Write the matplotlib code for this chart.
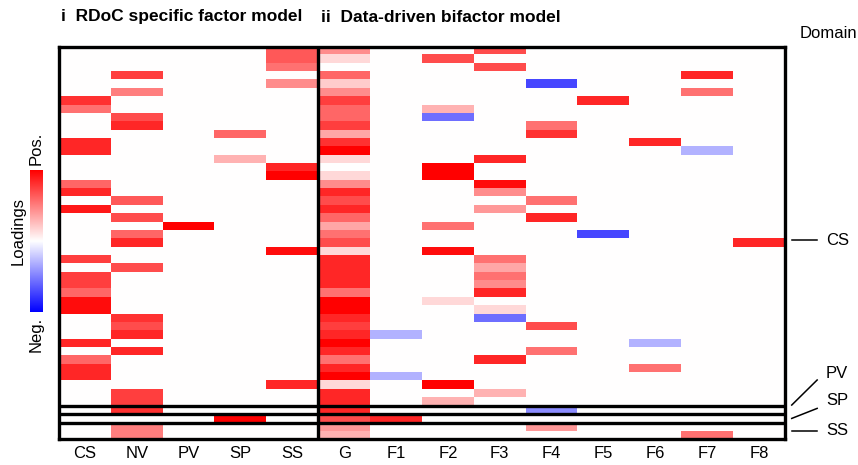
import numpy as np
import matplotlib
matplotlib.use("Agg")
import matplotlib.pyplot as plt

plt.rcParams['font.family'] = ['Liberation Sans', 'DejaVu Sans']

N_ROWS = 47
columns = ["CS", "NV", "PV", "SP", "SS", "G", "F1", "F2", "F3", "F4", "F5", "F6", "F7", "F8"]

# loadings per column: {row index: loading}
CS = {6: .8, 7: .55, 11: .85, 12: .85, 16: .6, 17: .85, 19: .9, 25: .75, 27: .75, 28: .75,
      29: .6, 30: .95, 31: .95, 35: .85, 37: .6, 38: .85, 39: .85}
NV = {3: .75, 5: .5, 8: .7, 9: .85, 18: .65, 20: .7, 22: .6, 23: .85, 26: .7, 32: .8, 33: .7,
      34: .85, 36: .85, 41: .75, 42: .75, 43: .8, 45: .5, 46: .5}
PV = {21: 1.0}
SP = {10: .6, 13: .3, 44: 1.0}
SS = {0: .65, 1: .65, 2: .55, 4: .45, 14: .85, 15: 1.0, 24: .95, 40: .85}
G = {0: .45, 1: .15, 2: 0, 3: .6, 4: .2, 5: .45, 6: .75, 7: .6, 8: .6, 9: .75, 10: .35, 11: .8,
     12: 1.0, 13: .15, 14: 0, 15: .15, 16: .45, 17: .85, 18: .7, 19: .85, 20: .6, 21: .35,
     22: .55, 23: .7, 24: .15, 25: .85, 26: .85, 27: .85, 28: .85, 29: .55, 30: 1.0, 31: 1.0,
     32: .85, 33: .75, 34: .85, 35: 1.0, 36: .85, 37: .55, 38: .85, 39: 1.0, 40: .15, 41: .85,
     42: .85, 43: .85, 44: .7, 45: .4, 46: .3}
F1 = {34: -.3, 39: -.3, 44: .85}
F2 = {1: .7, 7: .3, 8: -.57, 14: 1.0, 15: 1.0, 21: .55, 24: .95, 30: .15, 40: 1.0, 42: .3}
F3 = {0: .7, 2: .7, 13: .85, 16: .95, 17: .45, 19: .4, 25: .55, 26: .35, 27: .55, 28: .45,
      29: .85, 31: .15, 32: -.57, 37: .85, 41: .3}
F4 = {4: -.72, 9: .55, 10: .8, 18: .55, 20: .85, 33: .7, 36: .55, 43: -.45, 45: .4}
F5 = {6: .85, 22: -.72}
F6 = {11: .85, 35: -.3, 38: .55}
F7 = {3: .85, 5: .55, 12: -.3, 46: .55}
F8 = {23: .85}

col_data = [CS, NV, PV, SP, SS, G, F1, F2, F3, F4, F5, F6, F7, F8]
M = np.zeros((N_ROWS, len(columns)))
for j, d in enumerate(col_data):
    for r, v in d.items():
        M[r, j] = v

# domain row boundaries (CS: 0-42, PV: 43, SP: 44, SS: 45-46)
domain_bounds = [43, 44, 45]
domain_labels = ["CS", "PV", "SP", "SS"]

W, H = 858, 465
fig = plt.figure(figsize=(W / 100, H / 100), dpi=100)
L, R, T, B = 59, 785, 46.7, 439.3
ax = fig.add_axes([L / W, 1 - B / H, (R - L) / W, (B - T) / H])
ax.imshow(M, cmap='bwr', vmin=-1, vmax=1, aspect='auto', interpolation='nearest',
          extent=(0, len(columns), N_ROWS, 0))
ax.set_xlim(0, len(columns))
ax.set_ylim(N_ROWS, 0)
ax.set_yticks([])
ax.set_xticks(np.arange(len(columns)) + 0.5)
ax.set_xticklabels(columns, fontsize=12)
ax.tick_params(axis='x', length=0, pad=5)
for s in ax.spines.values():
    s.set_linewidth(2.4)
ax.axvline(5, color='black', lw=2.4)
for b in domain_bounds:
    ax.axhline(b, color='black', lw=2.4)

# right side domain annotations
x0, x1, xt = 14.13, 14.62, 14.79
ann = [("CS", (23.2, 23.2), 23.2), ("PV", (42.9, 39.9), 39.1),
       ("SP", (44.5, 43.3), 42.4), ("SS", (46.0, 46.0), 46.0)]
for lab, (ya, yb), yt in ann:
    ax.plot([x0, x1], [ya, yb], color='black', lw=1.1, clip_on=False)
    ax.text(xt, yt, lab, fontsize=12, va='center', ha='left', clip_on=False)

fig.text(800 / W, 1 - 33 / H, "Domain", fontsize=12, va='center', ha='left')
fig.text(61 / W, 1 - 17 / H, "i  RDoC specific factor model", fontsize=12.5,
         fontweight='bold', va='center', ha='left')
fig.text(321 / W, 1 - 17 / H, "ii  Data-driven bifactor model", fontsize=12.5,
         fontweight='bold', va='center', ha='left')

# colorbar
cax = fig.add_axes([30 / W, 1 - 312 / H, 13 / W, 142 / H])
grad = np.linspace(1, -1, 256).reshape(-1, 1)
cax.imshow(grad, cmap='bwr', vmin=-1, vmax=1, aspect='auto')
cax.set_axis_off()
fig.text(36.5 / W, 1 - 148 / H, "Pos.", rotation=90, fontsize=12, va='center', ha='center')
fig.text(36.5 / W, 1 - 334 / H, "Neg.", rotation=90, fontsize=12, va='center', ha='center')
fig.text(18 / W, 1 - 231 / H, "Loadings", rotation=90, fontsize=12, va='center', ha='center')

fig.savefig("out.png", dpi=100)
